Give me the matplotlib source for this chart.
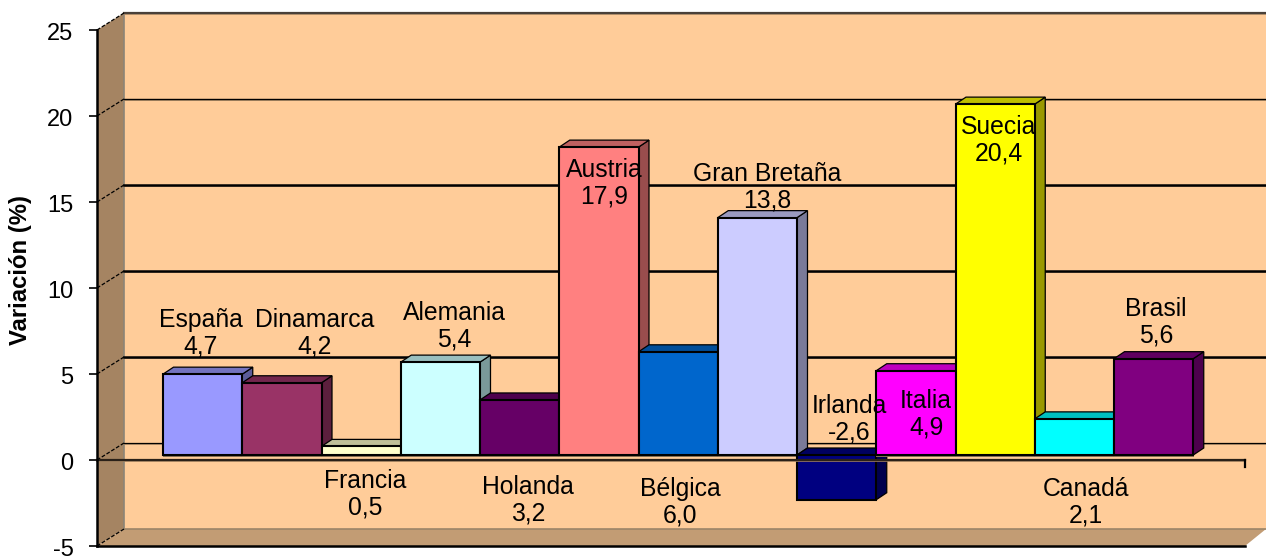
import matplotlib
matplotlib.use("Agg")
import matplotlib.pyplot as plt
from matplotlib.patches import Polygon
from matplotlib.transforms import Affine2D, ScaledTranslation
from matplotlib.colors import to_rgb

paises = ["España", "Dinamarca", "Francia", "Alemania", "Holanda", "Austria", "Bélgica",
          "Gran Bretaña", "Irlanda", "Italia", "Suecia", "Canadá", "Brasil"]
variacion = [4.7, 4.2, 0.5, 5.4, 3.2, 17.9, 6.0, 13.8, -2.6, 4.9, 20.4, 2.1, 5.6]
colores = ["#9999FF", "#993366", "#FFFFCC", "#CCFFFF", "#660066", "#FF8080", "#0066CC",
           "#CCCCFF", "#000080", "#FF00FF", "#FFFF00", "#00FFFF", "#800080"]
yticks = [-5, 0, 5, 10, 15, 20, 25]
# label centre in pixels
label_xy = [(201, 333), (315, 333), (365, 494), (454, 326), (528, 500), (604, 183), (680, 502),
            (767, 187), (849, 419), (926, 414), (999, 140), (1086, 502), (1156, 322)]
grid_lw = {0: 0.9, 5: 1.8, 10: 1.8, 15: 1.8, 20: 1.0, 25: 1.6}

plt.rcParams["font.family"] = "Liberation Sans"
plt.rcParams["axes.unicode_minus"] = False

W, H = 1266, 556
fig = plt.figure(figsize=(W / 100, H / 100), dpi=100, facecolor="white")

AL, AR, AT, AB = 97, 1245, 30, 546      # front plot box in pixels
ax = fig.add_axes([AL / W, 1 - AB / H, (AR - AL) / W, (AB - AT) / H])
ax.set_ylim(-5, 25)
X0, BW = 163, 79.25                      # first bar left edge and bar pitch
ax.set_xlim((AL - X0) / BW - 0.5, (AR - X0) / BW - 0.5)
ax.patch.set_visible(False)

PXU = (AB - AT) / 30                     # pixels per y unit
wall_dx, wall_dy = 27 / BW, 17 / PXU     # depth of the chart box
bar_oy = 5 / PXU                         # bars sit slightly behind the axis plane
bar_dx, bar_dy = 10.5 / BW, 7 / PXU      # depth of each bar
xl, xr = ax.get_xlim()
xedge = xl + (W - AL) / BW


def shade(c, f):
    return tuple(v * f for v in to_rgb(c))


def poly(pts, fc, ec="none", lw=0, z=1):
    ax.add_patch(Polygon(pts, closed=True, facecolor=fc, edgecolor=ec, linewidth=lw,
                         zorder=z, clip_on=False, joinstyle="miter"))


# walls
poly([(xl + wall_dx, -5 + wall_dy), (xedge, -5 + wall_dy), (xedge, 25 + wall_dy), (xl + wall_dx, 25 + wall_dy)], "#FFCC99", z=1)
poly([(xl, -5), (xl + wall_dx, -5 + wall_dy), (xl + wall_dx, 25 + wall_dy), (xl, 25)], "#A58462", z=1.1)
poly([(xl, -5), (xr, -5), (xedge, -5 + wall_dy), (xl + wall_dx, -5 + wall_dy)], "#C29C74", z=1.1)
ax.plot([xl + wall_dx] * 2, [-5 + wall_dy, 25 + wall_dy], color="#8C8477", lw=1.2, zorder=1.2, clip_on=False)
ax.plot([xl + wall_dx, xedge], [-5 + wall_dy] * 2, color="#9C8468", lw=1.2, zorder=1.2, clip_on=False)

# back-wall grid and its link to the ticks
for t in yticks:
    if t != -5:
        shadow = -1.4 / PXU
        ax.plot([xl + wall_dx, xedge], [t + wall_dy + shadow] * 2, color="#B08E6A", lw=1.2, zorder=1.3, clip_on=False)
        ax.plot([xl + wall_dx, xedge], [t + wall_dy] * 2, color="#4A4038" if t == 25 else "black",
                lw=grid_lw[t], zorder=1.4, clip_on=False)
    ax.plot([xl, xl + wall_dx], [t, t + wall_dy], color="black", lw=0.9, ls=(0, (3, 1.5)), zorder=1.5, clip_on=False)

# bars
for i, (v, c) in enumerate(zip(variacion, colores)):
    lo, hi = min(0, v) + bar_oy, max(0, v) + bar_oy
    x0, x1 = i - 0.5, i + 0.5
    z = 2 + i * 0.01
    poly([(x0, lo - 1.5 / PXU), (x1 + 1 / BW, lo - 1.5 / PXU), (x1 + 1 / BW, lo), (x0, lo)], "#8B7355", z=z)
    poly([(x1, lo), (x1 + bar_dx, lo + bar_dy), (x1 + bar_dx, hi + bar_dy), (x1, hi)], shade(c, 0.6), "black", 0.9, z)
    poly([(x0, hi), (x1, hi), (x1 + bar_dx, hi + bar_dy), (x0 + bar_dx, hi + bar_dy)], shade(c, 0.75), "black", 0.9, z)
    poly([(x0, lo), (x1, lo), (x1, hi), (x0, hi)], c, "black", 1.5, z + 0.001)

# zero axis plane
ax.plot([xl, xr], [0 - 1.4 / PXU] * 2, color="#A58462", lw=1.2, zorder=3, clip_on=False)
ax.plot([xl, xr], [0, 0], color="#2A2018", lw=1.6, zorder=3.1, clip_on=False)
ax.plot([xr, xr], [0, -7 / PXU], color="black", lw=1.6, zorder=3.1, clip_on=False)

# front axes
for s in ("top", "right"):
    ax.spines[s].set_visible(False)
ax.spines["left"].set_linewidth(1.8)
ax.spines["left"].set_zorder(4)
ax.spines["bottom"].set_linewidth(1.8)
ax.spines["bottom"].set_zorder(4)
ax.set_xticks([])
ax.set_yticks(yticks)
ax.tick_params(axis="y", length=6, width=1.2, pad=11, labelsize=17, colors="black")
shift = ScaledTranslation(0, -1.5 / 100, fig.dpi_scale_trans)
for lab in ax.get_yticklabels():
    lab.set_transform(lab.get_transform() + shift)
fig.text(21 / W, 1 - 270 / H, "Variación (%)", rotation=90, ha="center", va="center",
         fontsize=17.2, fontweight="bold", color="black")

# data labels
to_px = Affine2D().scale(1, -1).translate(0, H)
for name, v, (lx, ly) in zip(paises, variacion, label_xy):
    ax.text(lx, ly, f"{name}\n{str(v).replace('.', ',')}", transform=to_px, ha="center", va="center",
            ma="center", fontsize=17.8, color="black", zorder=5, linespacing=1.12, clip_on=False)

fig.savefig("out.png", dpi=100, facecolor="white")
